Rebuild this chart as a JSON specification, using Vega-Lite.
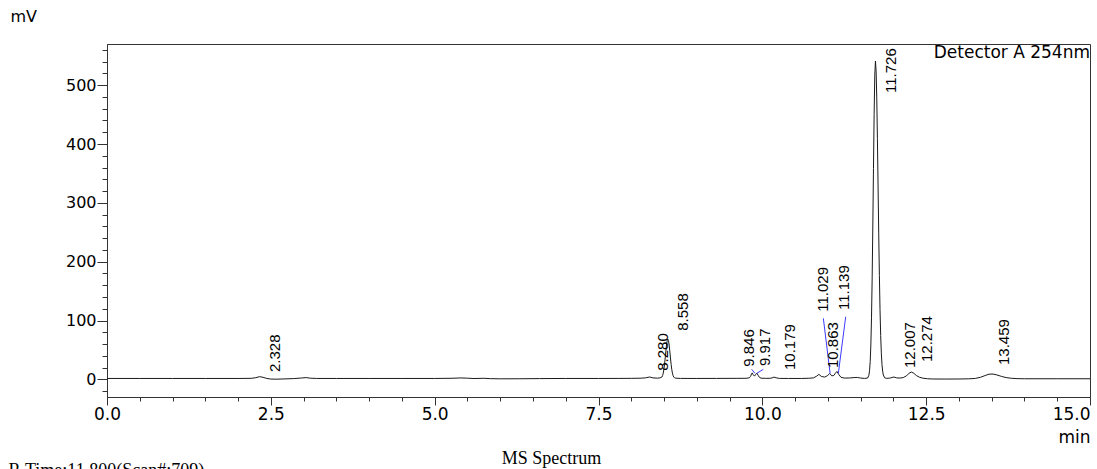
{
  "$schema": "https://vega.github.io/schema/vega-lite/v6.json",
  "width": 983,
  "height": 353,
  "autosize": {"type": "none"},
  "padding": {"left": 107, "top": 44, "right": 7, "bottom": 72},
  "background": "white",
  "config": {
    "view": {"stroke": "#333", "strokeWidth": 1},
    "axis": {"domainColor": "#333", "tickColor": "#333", "labelColor": "#000", "titleColor": "#000", "grid": false, "labelFont": "DejaVu Sans", "titleFont": "DejaVu Sans", "titleFontWeight": "normal", "tickWidth": 1, "domainWidth": 1}
  },
  "datasets": {
    "trace": [
      {"time": 0, "mv": 1.5}, {"time": 0.5, "mv": 1.5}, {"time": 1.0, "mv": 1.5}, {"time": 1.5, "mv": 1.5}, {"time": 2.0, "mv": 1.5},
      {"time": 2.2, "mv": 1.7}, {"time": 2.27, "mv": 2.8}, {"time": 2.328, "mv": 4.6}, {"time": 2.38, "mv": 3.5}, {"time": 2.44, "mv": 1.5},
      {"time": 2.5, "mv": 0.5}, {"time": 2.58, "mv": 0.3}, {"time": 2.7, "mv": 0.7}, {"time": 2.85, "mv": 1.3}, {"time": 2.97, "mv": 2.3},
      {"time": 3.04, "mv": 3.0}, {"time": 3.1, "mv": 2.0}, {"time": 3.2, "mv": 1.5}, {"time": 3.5, "mv": 1.5}, {"time": 4.0, "mv": 1.5},
      {"time": 4.5, "mv": 1.5}, {"time": 5.0, "mv": 1.5}, {"time": 5.25, "mv": 1.8}, {"time": 5.4, "mv": 2.4}, {"time": 5.5, "mv": 2.0},
      {"time": 5.6, "mv": 1.4}, {"time": 5.75, "mv": 1.8}, {"time": 5.85, "mv": 1.2}, {"time": 6.0, "mv": 0.9}, {"time": 6.3, "mv": 1.0},
      {"time": 6.6, "mv": 1.3}, {"time": 7.0, "mv": 1.5}, {"time": 7.5, "mv": 1.5}, {"time": 7.8, "mv": 1.6}, {"time": 8.0, "mv": 1.7},
      {"time": 8.15, "mv": 2.0}, {"time": 8.22, "mv": 2.6}, {"time": 8.28, "mv": 4.0}, {"time": 8.33, "mv": 2.5}, {"time": 8.4, "mv": 2.0},
      {"time": 8.44, "mv": 2.6}, {"time": 8.468, "mv": 4.0}, {"time": 8.478, "mv": 6.4}, {"time": 8.488, "mv": 10.5}, {"time": 8.498, "mv": 16.9},
      {"time": 8.508, "mv": 25.6}, {"time": 8.518, "mv": 36.3}, {"time": 8.528, "mv": 47.9}, {"time": 8.538, "mv": 58.4}, {"time": 8.548, "mv": 65.8},
      {"time": 8.558, "mv": 68.5}, {"time": 8.568, "mv": 65.8}, {"time": 8.578, "mv": 58.4}, {"time": 8.588, "mv": 47.9}, {"time": 8.598, "mv": 36.3},
      {"time": 8.608, "mv": 25.6}, {"time": 8.618, "mv": 16.9}, {"time": 8.628, "mv": 10.5}, {"time": 8.638, "mv": 6.4}, {"time": 8.648, "mv": 4.0},
      {"time": 8.658, "mv": 2.8}, {"time": 8.68, "mv": 2.0}, {"time": 8.75, "mv": 1.6}, {"time": 9.0, "mv": 1.5}, {"time": 9.3, "mv": 1.6},
      {"time": 9.6, "mv": 1.7}, {"time": 9.75, "mv": 1.8}, {"time": 9.8, "mv": 2.5}, {"time": 9.82, "mv": 5.0}, {"time": 9.835, "mv": 9.0},
      {"time": 9.846, "mv": 11.0}, {"time": 9.86, "mv": 8.0}, {"time": 9.88, "mv": 5.5}, {"time": 9.9, "mv": 8.5}, {"time": 9.917, "mv": 10.5},
      {"time": 9.935, "mv": 7.0}, {"time": 9.955, "mv": 3.5}, {"time": 9.98, "mv": 2.0}, {"time": 10.05, "mv": 1.7}, {"time": 10.12, "mv": 1.8},
      {"time": 10.15, "mv": 2.5}, {"time": 10.179, "mv": 3.8}, {"time": 10.21, "mv": 2.6}, {"time": 10.26, "mv": 1.6}, {"time": 10.4, "mv": 1.5},
      {"time": 10.6, "mv": 1.5}, {"time": 10.7, "mv": 1.8}, {"time": 10.78, "mv": 2.5}, {"time": 10.83, "mv": 5.5}, {"time": 10.863, "mv": 8.5},
      {"time": 10.9, "mv": 5.0}, {"time": 10.95, "mv": 3.8}, {"time": 10.99, "mv": 6.0}, {"time": 11.029, "mv": 10.0}, {"time": 11.06, "mv": 6.0},
      {"time": 11.09, "mv": 6.5}, {"time": 11.115, "mv": 10.5}, {"time": 11.139, "mv": 13.5}, {"time": 11.165, "mv": 8.5}, {"time": 11.2, "mv": 3.5},
      {"time": 11.25, "mv": 2.2}, {"time": 11.33, "mv": 2.3}, {"time": 11.4, "mv": 3.0}, {"time": 11.45, "mv": 3.2}, {"time": 11.5, "mv": 2.2},
      {"time": 11.56, "mv": 1.6}, {"time": 11.606, "mv": 2.2}, {"time": 11.626, "mv": 7.0}, {"time": 11.636, "mv": 14.5}, {"time": 11.646, "mv": 30.0},
      {"time": 11.656, "mv": 58.5}, {"time": 11.666, "mv": 104.5}, {"time": 11.676, "mv": 172.5}, {"time": 11.686, "mv": 260.5}, {"time": 11.696, "mv": 358.5},
      {"time": 11.706, "mv": 450.5}, {"time": 11.716, "mv": 517.5}, {"time": 11.726, "mv": 541.0}, {"time": 11.736, "mv": 524.5}, {"time": 11.746, "mv": 478.5},
      {"time": 11.756, "mv": 409.5}, {"time": 11.766, "mv": 328.5}, {"time": 11.776, "mv": 248.5}, {"time": 11.786, "mv": 176.5}, {"time": 11.796, "mv": 118.5},
      {"time": 11.806, "mv": 74.5}, {"time": 11.816, "mv": 44.5}, {"time": 11.826, "mv": 25.0}, {"time": 11.836, "mv": 14.0}, {"time": 11.846, "mv": 7.5},
      {"time": 11.866, "mv": 2.7}, {"time": 11.89, "mv": 1.8}, {"time": 11.92, "mv": 1.8}, {"time": 11.96, "mv": 2.5}, {"time": 12.007, "mv": 4.0},
      {"time": 12.05, "mv": 2.5}, {"time": 12.1, "mv": 2.2}, {"time": 12.15, "mv": 3.0}, {"time": 12.2, "mv": 6.0}, {"time": 12.24, "mv": 10.5},
      {"time": 12.274, "mv": 12.4}, {"time": 12.31, "mv": 10.5}, {"time": 12.35, "mv": 6.5}, {"time": 12.4, "mv": 3.5}, {"time": 12.45, "mv": 2.0},
      {"time": 12.52, "mv": 1.0}, {"time": 12.6, "mv": 0.6}, {"time": 12.8, "mv": 0.5}, {"time": 13.0, "mv": 0.6}, {"time": 13.15, "mv": 0.9},
      {"time": 13.25, "mv": 1.6}, {"time": 13.33, "mv": 3.5}, {"time": 13.4, "mv": 6.5}, {"time": 13.459, "mv": 8.8}, {"time": 13.52, "mv": 9.0},
      {"time": 13.58, "mv": 7.5}, {"time": 13.65, "mv": 5.0}, {"time": 13.72, "mv": 3.0}, {"time": 13.8, "mv": 1.8}, {"time": 13.9, "mv": 1.2},
      {"time": 14.0, "mv": 1.0}, {"time": 14.5, "mv": 1.0}, {"time": 15.0, "mv": 1.0}
    ],
    "peaks": [
      {"rt": "2.328", "label_t": 2.571, "label_mv": 12.4},
      {"rt": "8.280", "label_t": 8.484, "label_mv": 14.6},
      {"rt": "8.558", "label_t": 8.789, "label_mv": 82.6},
      {"rt": "9.846", "label_t": 9.797, "label_mv": 21.4},
      {"rt": "9.917", "label_t": 10.048, "label_mv": 22.6},
      {"rt": "10.179", "label_t": 10.422, "label_mv": 15.8},
      {"rt": "10.863", "label_t": 11.079, "label_mv": 19.2},
      {"rt": "11.029", "label_t": 10.926, "label_mv": 114.9},
      {"rt": "11.139", "label_t": 11.246, "label_mv": 117.8},
      {"rt": "11.726", "label_t": 11.956, "label_mv": 486.7},
      {"rt": "12.007", "label_t": 12.253, "label_mv": 19.2},
      {"rt": "12.274", "label_t": 12.513, "label_mv": 29.4},
      {"rt": "13.459", "label_t": 13.688, "label_mv": 24.3}
    ],
    "leaders": [
      {"rt": "9.846", "t1": 9.838, "mv1": 17.0, "t2": 9.888, "mv2": 10.2},
      {"rt": "9.917", "t1": 10.015, "mv1": 17.0, "t2": 9.914, "mv2": 10.2},
      {"rt": "11.029", "t1": 10.931, "mv1": 103.7, "t2": 11.034, "mv2": 10.2},
      {"rt": "11.139", "t1": 11.272, "mv1": 106.4, "t2": 11.16, "mv2": 10.2}
    ]
  },
  "layer": [
    {
      "data": {"name": "trace"},
      "mark": {"type": "line", "color": "#1a1a1a", "strokeWidth": 1, "clip": true},
      "encoding": {
        "x": {
          "field": "time", "type": "quantitative",
          "scale": {"domain": [0, 15], "nice": false, "zero": false},
          "axis": {
            "orient": "bottom",
            "values": [0, 2.5, 5, 7.5, 10, 12.5, 15],
            "format": ".1f",
            "tickSize": 8,
            "labelPadding": 1,
            "labelFontSize": 17,
            "labelFlush": false,
            "labelOverlap": false,
            "labelBound": false,
            "labelAlign": {"condition": {"test": "datum.value === 15", "value": "right"}, "value": "center"},
            "title": "min",
            "titleFontSize": 17,
            "titleX": 983,
            "titleY": 45,
            "titleAlign": "right",
            "titleBaseline": "alphabetic"
          }
        },
        "y": {
          "field": "mv", "type": "quantitative",
          "scale": {"domain": [-30, 570], "nice": false, "zero": false},
          "axis": {
            "orient": "left",
            "values": [0, 100, 200, 300, 400, 500],
            "tickSize": 10,
            "labelPadding": 1,
            "labelFontSize": 16,
            "title": "mV",
            "titleFontSize": 16,
            "titleAngle": 0,
            "titleX": -97,
            "titleY": -23,
            "titleAlign": "left",
            "titleBaseline": "alphabetic"
          }
        }
      }
    },
    {
      "data": {"name": "leaders"},
      "mark": {"type": "rule", "color": "#3b3bff", "strokeWidth": 1},
      "encoding": {
        "x": {
          "field": "t1", "type": "quantitative",
          "axis": {
            "orient": "bottom",
            "values": [0.5, 1, 1.5, 2, 3, 3.5, 4, 4.5, 5.5, 6, 6.5, 7, 8, 8.5, 9, 9.5, 10.5, 11, 11.5, 12, 13, 13.5, 14, 14.5],
            "tickSize": 4,
            "labels": false,
            "domain": false,
            "title": "MS Spectrum",
            "titleFont": "Liberation Serif",
            "titleFontSize": 18,
            "titleX": 444,
            "titleY": 66,
            "titleAlign": "center",
            "titleBaseline": "alphabetic"
          }
        },
        "x2": {"field": "t2"},
        "y": {
          "field": "mv1", "type": "quantitative",
          "axis": {
            "orient": "left",
            "values": [-20, 20, 40, 60, 80, 120, 140, 160, 180, 220, 240, 260, 280, 320, 340, 360, 380, 420, 440, 460, 480, 520, 540, 560],
            "tickSize": 5,
            "labels": false,
            "domain": false,
            "title": "R.Time:11.800(Scan#:709)",
            "titleFont": "Liberation Serif",
            "titleFontSize": 18,
            "titleAngle": 0,
            "titleX": -99,
            "titleY": 431,
            "titleAlign": "left",
            "titleBaseline": "alphabetic"
          }
        },
        "y2": {"field": "mv2"}
      }
    },
    {
      "data": {"name": "peaks"},
      "mark": {"type": "text", "angle": 270, "align": "left", "baseline": "middle", "font": "Liberation Sans", "fontSize": 15, "color": "#000"},
      "encoding": {
        "x": {"field": "label_t", "type": "quantitative", "axis": null},
        "y": {"field": "label_mv", "type": "quantitative", "axis": null},
        "text": {"field": "rt"}
      }
    },
    {
      "data": {"values": [{}]},
      "mark": {"type": "text", "align": "right", "baseline": "middle", "font": "DejaVu Sans", "fontSize": 17, "color": "#000"},
      "encoding": {
        "x": {"datum": 15, "type": "quantitative", "axis": null},
        "y": {"datum": 555, "type": "quantitative", "axis": null},
        "text": {"value": "Detector A 254nm"}
      }
    }
  ],
  "resolve": {"axis": {"x": "independent", "y": "independent"}}
}
